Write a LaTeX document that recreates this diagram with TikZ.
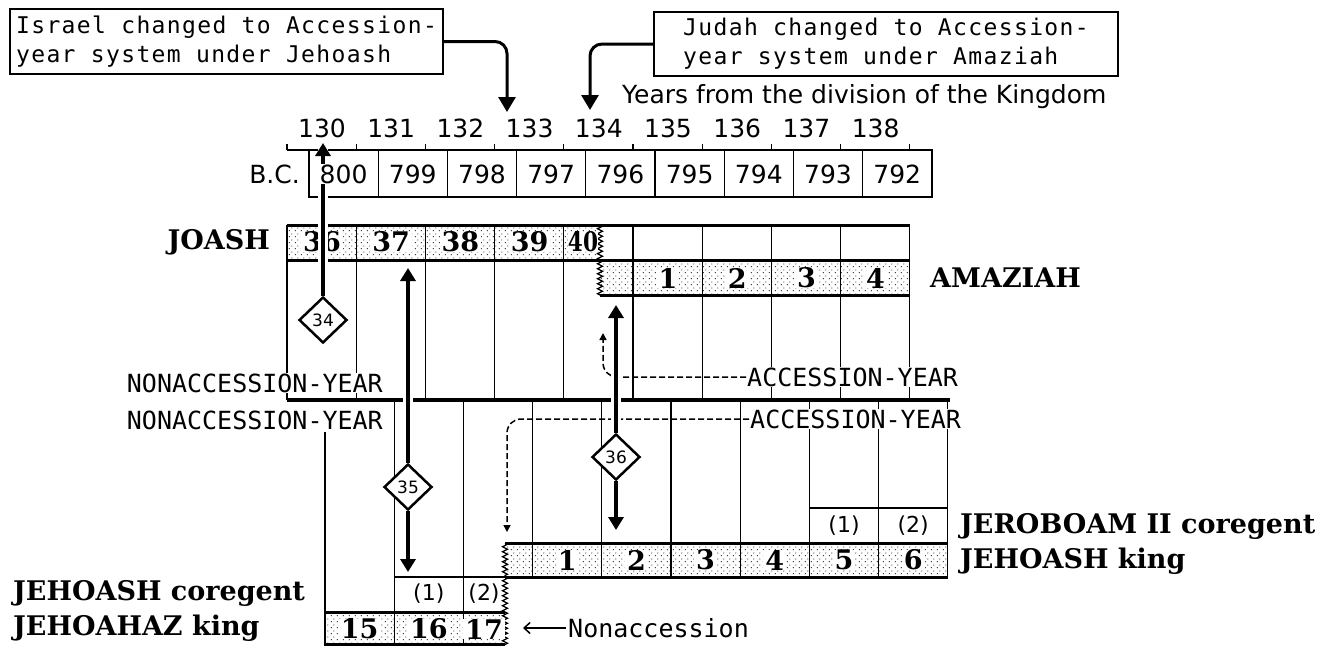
\documentclass[tikz,border=0pt]{standalone}
\usepackage{fontspec}
\usetikzlibrary{shapes.geometric,arrows.meta,decorations.pathmorphing,patterns}
\newfontfamily\monof{DejaVu Sans Mono}
\newfontfamily\callf{DejaVu Sans Mono}[LetterSpace=6]
\newfontfamily\sansf{DejaVu Sans}
\newfontfamily\boldf{DejaVu Serif}
\pgfdeclarepatternformonly{mydots}{\pgfpointorigin}{\pgfpoint{6pt}{6pt}}{\pgfpoint{6pt}{6pt}}{%
  \pgfpathcircle{\pgfpoint{1.5pt}{1.5pt}}{0.65pt}\pgfpathcircle{\pgfpoint{4.5pt}{4.5pt}}{0.65pt}\pgfusepath{fill}}
\pgfdeclarelayer{fg}
\pgfsetlayers{main,fg}
\begin{document}
\begin{tikzpicture}[x=1pt,y=-1pt,
  thin/.style={line width=1.3pt},
  thk/.style={line width=3pt},
  callbox/.style={draw, line width=2pt, align=left, inner sep=0pt, fill=white,
     font=\callf\fontsize{23}{29}\selectfont},
  lbl/.style={font=\monof\fontsize{25}{26}\selectfont, fill=white, inner sep=1pt},
  yr/.style={font=\sansf\fontsize{25}{26}\selectfont, inner sep=0pt},
  bcn/.style={font=\sansf\fontsize{25}{26}\selectfont, inner sep=0.5pt, fill=white},
  num/.style={font=\boldf\bfseries\fontsize{27}{28}\selectfont, fill=white, inner xsep=2pt, inner ysep=0pt},
  king/.style={font=\boldf\bfseries\fontsize{27}{28}\selectfont, inner sep=0pt},
  paren/.style={font=\sansf\fontsize{22}{24}\selectfont, inner sep=0pt},
  zzdec/.style={decoration={zigzag, segment length=5pt, amplitude=2.5pt}},
  diam/.style={diamond, draw, line width=2.5pt, fill=white, minimum width=48pt,
     minimum height=46pt, inner sep=0pt, font=\sansf\fontsize{17}{18}\selectfont},
  bigarr/.style={line width=3.5pt, -{Triangle[width=15pt,length=13pt]},
     preaction={draw=white, line width=10pt, arrows=-}},
  dasharr/.style={line width=1.5pt, dash pattern=on 6pt off 3pt,
     -{Triangle[width=7pt,length=7pt]}, rounded corners=14pt},
  callarr/.style={line width=3pt, -{Triangle[width=17pt,length=15pt]}, rounded corners=12pt}
]
\fill[white] (0,0) rectangle (1335,646);
\useasboundingbox (0,0) rectangle (1335,646);

% ---------- callouts ----------
\node[callbox, minimum width=433pt, minimum height=65pt] (c1) at (226.5,41.5)
  {Israel changed to Accession-\\year system under Jehoash};
\node[callbox, minimum width=464pt, minimum height=64pt] (c2) at (886,44)
  {Judah changed to Accession-\\year system under Amaziah};
\coordinate (t1) at (507,112);
\coordinate (t2) at (590,110);
\draw[callarr] (c1.east) -| (t1);
\draw[callarr] (c2.west) -| (t2);

\node[yr, anchor=west] (yrs) at (622,97) {Years from the division of the Kingdom};

% ---------- year scale ----------
\foreach \i [evaluate=\i as \n using {int(130+\i)}] in {0,...,8}
  \node[yr] (y\i) at ({322+69.2*\i},128) {\n};
\draw[thin] (287,150) -- (932,150);
\foreach \i in {0,...,9} \draw[thin] ({287+69.2*\i},150) -- ++(0,-6);
\draw[thin] (309,150) rectangle (932,197);
\foreach \i in {1,...,8} \draw[thin] ({309+69.2*\i},150) -- ({309+69.2*\i},197);
\node[yr, anchor=east] (bc) at (300,174) {B.C.};
\begin{pgfonlayer}{fg}
\foreach \i [evaluate=\i as \n using {int(800-\i)}] in {0,...,8}
  \node[bcn] (bc\i) at ({343.6+69.2*\i},174) {\n};
\end{pgfonlayer}

% ---------- Judah: JOASH / AMAZIAH ----------
\fill[pattern=mydots] (287,225) -- (600,225) decorate[zzdec]{-- (600,260)} -- (287,260) -- cycle;
\draw[thin, decorate, zzdec] (600,225) -- (600,260);
\fill[pattern=mydots] (600,260) decorate[zzdec]{-- (600,295)} -- (910,295) -- (910,260) -- cycle;
\draw[thin, decorate, zzdec] (600,260) -- (600,295);
\foreach \i in {0,...,9} \draw[thin] ({287+69.2*\i},225) -- ({287+69.2*\i},400);
\draw[thk] (287,225) -- (910,225);
\draw[thk] (287,260) -- (910,260);
\draw[thk] (600,295) -- (910,295);
\foreach \n [count=\i from 0] in {36,37,38,39}
  \node[num] (jo\n) at ({322+69.2*\i},242) {\n};
\node[num, inner xsep=0pt] (jo40) at (583,242) {\scalebox{0.8}[1]{40}};
\foreach \n [count=\i from 0] in {1,2,3,4}
  \node[num] (am\n) at ({668+69.2*\i},278) {\n};
\node[king, anchor=east] (joash) at (270,242) {JOASH};
\node[king, anchor=west] (amaziah) at (930,278) {AMAZIAH};

% ---------- divider ----------
\draw[line width=3.5pt] (287,400) -- (950,400);

% ---------- Israel: lower grid ----------
\draw[thin] (325,432) -- (325,646);
\foreach \i in {1,2} \draw[thin] ({325+69.2*\i},400) -- ({325+69.2*\i},646);
\foreach \i in {3,...,9} \draw[thin] ({325+69.2*\i},400) -- ({325+69.2*\i},577);
% JEHOASH king row
\fill[pattern=mydots] (505,543) decorate[zzdec]{-- (505,577)} -- (947.8,577) -- (947.8,543) -- cycle;
\draw[thin, decorate, zzdec] (505,543) -- (505,577);
\draw[thk] (505,543) -- (947.8,543);
\draw[thk] (505,577) -- (947.8,577);
\foreach \n [count=\i from 0] in {1,...,6}
  \node[num] (jk\n) at ({567.2+69.2*\i},560) {\n};
% JEROBOAM coregent
\draw[thin] (809.4,508) -- (947.8,508);
\node[paren] (jr1) at (844,526) {(1)};
\node[paren] (jr2) at (913.2,526) {(2)};
% JEHOASH coregent
\draw[thin] (394.2,577) -- (505,577);
\draw[thin, decorate, zzdec] (505,577) -- (505,612);
\node[paren] (jc1) at (428.8,594) {(1)};
\node[paren] (jc2) at (484,594) {(2)};
% JEHOAHAZ king
\fill[pattern=mydots] (325,612) -- (505,612) decorate[zzdec]{-- (505,645)} -- (325,645) -- cycle;
\draw[thin, decorate, zzdec] (505,612) -- (505,645);
\draw[thk] (325,612) -- (505,612);
\draw[thk] (325,644.5) -- (505,644.5);
\node[num] (jh15) at (359.6,629) {15};
\node[num] (jh16) at (428.8,629) {16};
\node[num] (jh17) at (484,629) {17};

\node[king, anchor=west] (jerob) at (960,526) {JEROBOAM II coregent};
\node[king, anchor=west] (jehk) at (960,561) {JEHOASH king};
\node[king, anchor=west] (jehc) at (13,593) {JEHOASH coregent};
\node[king, anchor=west] (jhzk) at (13,628) {JEHOAHAZ king};

% ---------- system labels ----------
\node[lbl, anchor=east] (na1) at (384,383) {NONACCESSION-YEAR};
\node[lbl, anchor=east] (na2) at (384,420) {NONACCESSION-YEAR};
\node[lbl, anchor=west] (ac1) at (746,377) {ACCESSION-YEAR};
\node[lbl, anchor=west] (ac2) at (749,419) {ACCESSION-YEAR};
\coordinate (da1) at (603,333);
\coordinate (da2) at (507,532);
\draw[dasharr] (ac1.west) -| (da1);
\draw[dasharr] (ac2.west) -| (da2);

\node[font=\monof\fontsize{25}{26}\selectfont, anchor=west, inner sep=2pt] (nac) at (566,628) {Nonaccession};
\coordinate (nat) at (523,628);
\draw[line width=1.5pt, -{Straight Barb[length=6pt,width=11pt]}] (nac.west) -- (nat);

% ---------- diamonds and arrows ----------
\begin{pgfonlayer}{fg}
\node[diam] (d34) at (323,320) {34};
\node[diam] (d35) at (408,487) {35};
\node[diam] (d36) at (616,457) {36};
\end{pgfonlayer}
\coordinate (a34) at (323,143);
\coordinate (a35u) at (408,268);
\coordinate (a35d) at (408,572);
\coordinate (a36u) at (616,305);
\coordinate (a36d) at (616,530);
\draw[bigarr] (d34.north) -- (a34);
\draw[bigarr] (d35.north) -- (a35u);
\draw[bigarr] (d35.south) -- (a35d);
\draw[bigarr] (d36.north) -- (a36u);
\draw[bigarr] (d36.south) -- (a36d);
\end{tikzpicture}
\end{document}
